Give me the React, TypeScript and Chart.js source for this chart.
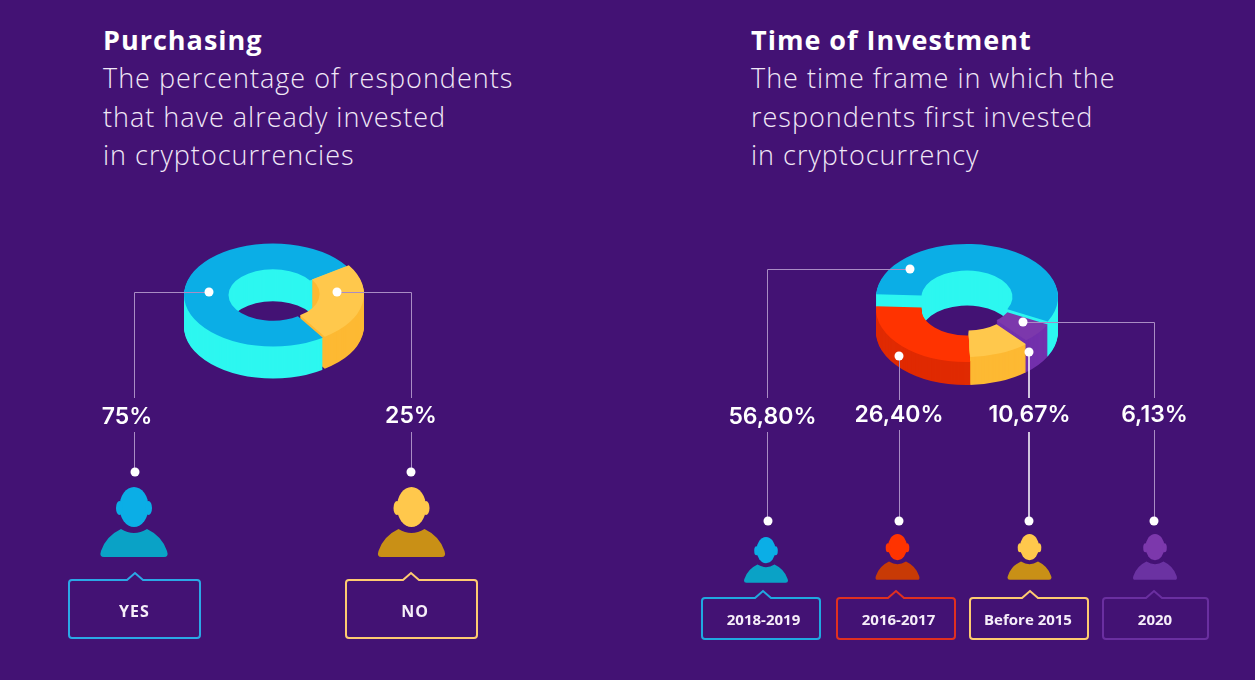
import React, { useEffect, useRef } from "react";
import { Chart, registerables } from "chart.js";

Chart.register(...registerables);

// Values are the printed percentages. The source artwork's slices are not drawn to scale,
// so slice sweeps follow these numbers rather than the artwork's exact angles.
const purchasingLabels = ["YES", "NO"];
const purchasingValues = [75, 25];
const purchasingText = ["75%", "25%"];

// clockwise drawing order around the ring
const investmentLabels = ["2018-2019", "2020", "Before 2015", "2016-2017"];
const investmentValues = [56.8, 6.13, 10.67, 26.4];
const investmentText = ["56,80%", "6,13%", "10,67%", "26,40%"];

const BG = "#431274";
const BLUE = "#0BAEE6";
const CYAN = "#2DF7F0";
const YEL = "#FFC84C";
const YELW = "#FDB933";
const RED = "#FF3300";
const REDW = "#E02A02";
const PUR = "#7C38AC";
const PURW = "#7330AC";
const LINE = "#A98CC4";

type RingCfg = {
  cx: number; baseY: number; rx: number; k: number; rotation: number;
  labels: string[]; values: number[]; top: string[]; wall: string[]; heights: number[]; shift: number[][];
};

const ringA: RingCfg = {
  cx: 273, baseY: 326.5, rx: 89, k: 0.579, rotation: 146,
  labels: purchasingLabels, values: purchasingValues,
  top: [BLUE, YEL], wall: [CYAN, YELW], heights: [32, 32], shift: [[0, 0], [2, -1]],
};
const ringB: RingCfg = {
  cx: 966.5, baseY: 332, rx: 91, k: 0.582, rotation: 273,
  labels: investmentLabels, values: investmentValues,
  top: [BLUE, PUR, YEL, RED], wall: [CYAN, PURW, YELW, REDW], heights: [35, 32, 28, 23], shift: [[0, 0], [0, 0], [0, 0], [0, 0]],
};

const extrude = (cfg: RingCfg) => ({
  id: "extrude",
  beforeDatasetsDraw(chart: any) {
    const ctx = chart.ctx;
    const arcs = chart.getDatasetMeta(0).data;
    const maxH = Math.max(...cfg.heights);
    const paint = (arc: any, i: number, level: number, color: string) => {
      const saved = arc.options;
      arc.options = { ...saved, backgroundColor: color, borderWidth: 0 };
      ctx.save();
      ctx.translate(arc.x + cfg.shift[i][0], arc.y - level + cfg.shift[i][1] + 60);
      ctx.scale(1, cfg.k);
      ctx.translate(-arc.x, -arc.y);
      arc.draw(ctx);
      ctx.restore();
      arc.options = saved;
    };
    for (let level = 0; level <= maxH; level++) {
      arcs.forEach((arc: any, i: number) => {
        if (level < cfg.heights[i]) paint(arc, i, level, cfg.wall[i]);
        else if (level === cfg.heights[i]) paint(arc, i, level, cfg.top[i]);
      });
    }
    return false;
  },
});

function Ring({ cfg }: { cfg: RingCfg }) {
  const ref = useRef<HTMLCanvasElement>(null);
  useEffect(() => {
    const chart = new Chart(ref.current as HTMLCanvasElement, {
      type: "doughnut",
      data: {
        labels: cfg.labels,
        datasets: [{ data: cfg.values, backgroundColor: cfg.top, borderWidth: 0, radius: cfg.rx, cutout: "50%", rotation: cfg.rotation } as any],
      },
      options: {
        animation: false, responsive: false, events: [],
        plugins: { legend: { display: false }, tooltip: { enabled: false } },
      },
      plugins: [extrude(cfg)],
    });
    return () => chart.destroy();
  }, [cfg]);
  // canvas is 240 square: ring centre sits at y=120, drawn 60 lower, so base centre = top + 180
  return (
    <canvas ref={ref} width={240} height={240}
      style={{ position: "absolute", left: cfg.cx - 120, top: cfg.baseY - 180, width: 240, height: 240 }} />
  );
}

const Person = ({ x, y, s, head, body }: { x: number; y: number; s: number; head: string; body: string }) => (
  <g transform={`translate(${x} ${y}) scale(${s})`}>
    <ellipse cx={0} cy={20} rx={14.5} ry={20} fill={head} />
    <ellipse cx={-14.5} cy={21} rx={3.5} ry={7} fill={head} />
    <ellipse cx={14.5} cy={21} rx={3.5} ry={7} fill={head} />
    <path d="M-30 70 Q-35 70 -33 64 Q-28 49 -13 42 Q0 50 13 42 Q28 49 33 64 Q35 70 30 70 Z" fill={body} />
  </g>
);

const Callout = ({ x0, x1, y0, y1, nx, h, color }: any) => (
  <path
    d={`M${x0 + 3} ${y0} H${nx - 8} L${nx} ${y0 - h} L${nx + 8} ${y0} H${x1 - 3} Q${x1} ${y0} ${x1} ${y0 + 3} V${y1 - 3} Q${x1} ${y1} ${x1 - 3} ${y1} H${x0 + 3} Q${x0} ${y1} ${x0} ${y1 - 3} V${y0 + 3} Q${x0} ${y0} ${x0 + 3} ${y0} Z`}
    fill="none" stroke={color} strokeWidth={2} />
);

const Heading = ({ x, title, lines }: { x: number; title: string; lines: string[] }) => (
  <>
    <div style={{ position: "absolute", left: x, top: 21, font: "700 27px 'Open Sans'", letterSpacing: 1, color: "#fff", whiteSpace: "nowrap", lineHeight: "38px" }}>{title}</div>
    {lines.map((t, i) => (
      <div key={t} style={{ position: "absolute", left: x, top: 59 + i * 38.7, font: "300 27px 'Open Sans'", letterSpacing: 1, color: "#F1E8F7", whiteSpace: "nowrap", lineHeight: "38px" }}>{t}</div>
    ))}
  </>
);

const Pct = ({ cx, cy, t }: { cx: number; cy: number; t: string }) => (
  <div style={{ position: "absolute", left: cx - 70, width: 140, top: cy - 16, textAlign: "center", font: "600 23px Inter", color: "#fff", lineHeight: "32px" }}>{t}</div>
);

const Tag = ({ cx, cy, t, size }: { cx: number; cy: number; t: string; size: number }) => (
  <div style={{ position: "absolute", left: cx - 70, width: 140, top: cy - 14, textAlign: "center", font: `700 ${size}px 'Open Sans'`, letterSpacing: size > 15 ? 1 : 0, color: "#F6EEF9", lineHeight: "28px" }}>{t}</div>
);

const Dot = ({ x, y }: { x: number; y: number }) => <circle cx={x} cy={y} r={4.5} fill="#fff" />;

export default function App() {
  return (
    <div style={{ position: "absolute", left: 0, top: 0, width: 1255, height: 680, background: BG, overflow: "hidden" }}>
      <Heading x={103} title="Purchasing" lines={["The percentage of respondents", "that have already invested", "in cryptocurrencies"]} />
      <Heading x={751} title="Time of Investment" lines={["The time frame in which the", "respondents first invested", "in cryptocurrency"]} />

      <Ring cfg={ringA} />
      <Ring cfg={ringB} />

      <svg width={1255} height={680} style={{ position: "absolute", left: 0, top: 0 }}>
        <g fill="none" stroke={LINE} strokeWidth={1}>
          <path d="M209 292.5 H134.5 V398 M134.5 432 V472" />
          <path d="M337 292.5 H411.5 V398 M411.5 432 V472" />
          <path d="M910 269.5 H767.5 V398 M767.5 432 V521" />
          <path d="M899.5 356 V400 M899.5 430 V521" />
          <path d="M1023 322.5 H1154.5 V398 M1154.5 430 V521" />
        </g>
        <path d="M1029 352 V398 M1029 432 V521" stroke="#fff" strokeWidth={1.5} fill="none" />
        <Dot x={209} y={292} /><Dot x={337} y={292} /><Dot x={135} y={472} /><Dot x={411} y={472} />
        <Dot x={910} y={269} /><Dot x={899} y={356} /><Dot x={1029} y={352} /><Dot x={1023} y={322} />
        <Dot x={768} y={521} /><Dot x={899} y={521} /><Dot x={1029} y={521} /><Dot x={1154} y={521} />

        <Person x={134} y={487} s={1} head={BLUE} body="#0AA2C6" />
        <Person x={411.5} y={487} s={1} head={YEL} body="#C99016" />
        <Person x={766} y={537} s={0.655} head={BLUE} body="#0AA2C6" />
        <Person x={897.5} y={534} s={0.655} head={RED} body="#C83A06" />
        <Person x={1029.5} y={534} s={0.655} head={YEL} body="#C99016" />
        <Person x={1155} y={534} s={0.655} head={PUR} body="#6B32A2" />

        <Callout x0={69} x1={200} y0={580} y1={638} nx={135} h={7} color="#2BA8E6" />
        <Callout x0={346} x1={477} y0={580} y1={638} nx={411} h={7} color="#FFCB70" />
        <Callout x0={702} x1={820} y0={598} y1={639} nx={763} h={7} color="#20A8E0" />
        <Callout x0={837} x1={955} y0={598} y1={639} nx={896} h={7} color="#E03020" />
        <Callout x0={970} x1={1088} y0={598} y1={639} nx={1030} h={7} color="#FFCB70" />
        <Callout x0={1103} x1={1208} y0={598} y1={639} nx={1154} h={7} color="#6A2FA0" />
      </svg>

      <Pct cx={127} cy={416} t={purchasingText[0]} />
      <Pct cx={411} cy={415} t={purchasingText[1]} />
      <Pct cx={772.5} cy={416} t={investmentText[0]} />
      <Pct cx={899} cy={414} t={investmentText[3]} />
      <Pct cx={1029.5} cy={414} t={investmentText[2]} />
      <Pct cx={1154.5} cy={414} t={investmentText[1]} />

      <Tag cx={134.5} cy={610.5} t={purchasingLabels[0]} size={16} />
      <Tag cx={415} cy={610.5} t={purchasingLabels[1]} size={16} />
      <Tag cx={763.5} cy={618.5} t={investmentLabels[0]} size={15} />
      <Tag cx={898.5} cy={618.5} t={investmentLabels[3]} size={15} />
      <Tag cx={1028} cy={618.5} t={investmentLabels[2]} size={15} />
      <Tag cx={1155} cy={618.5} t={investmentLabels[1]} size={15} />
    </div>
  );
}
